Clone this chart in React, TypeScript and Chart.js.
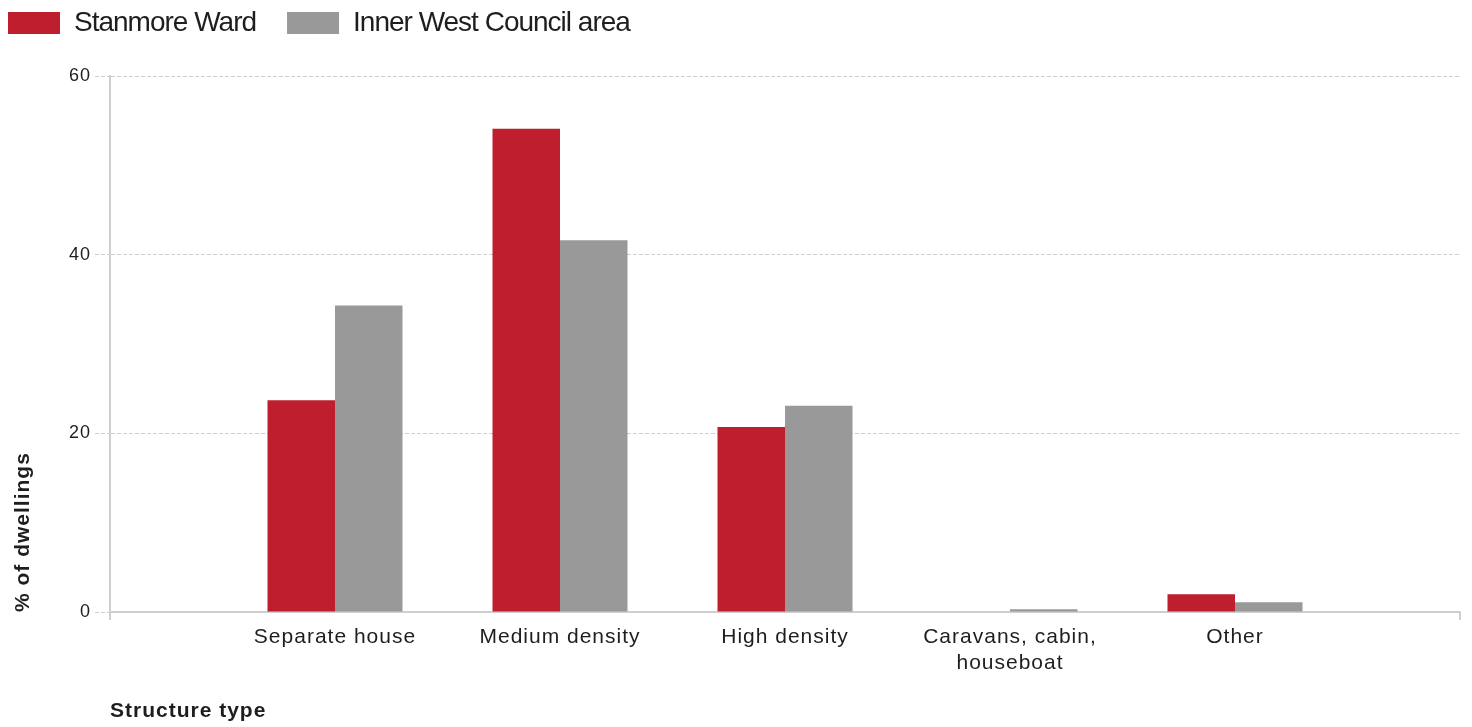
import React, { useEffect, useRef } from 'react';
import { Chart, registerables } from 'chart.js';

Chart.register(...registerables);

// ---- data ----
const categories: (string | string[])[] = [
  'Separate house',
  'Medium density',
  'High density',
  ['Caravans, cabin,', 'houseboat'],
  'Other',
];
const seriesNames = ['Stanmore Ward', 'Inner West Council area'];
const stanmoreWard = [23.7, 54.1, 20.7, 0.0, 2.0];
const innerWest = [34.3, 41.6, 23.1, 0.3, 1.1];
const yTicks = [0, 20, 40, 60];
const yTitle = '% of dwellings';
const xTitle = 'Structure type';

const FONT = "'Liberation Sans', Arial, Helvetica, sans-serif";
const RED = '#be1e2d';
const GREY = '#999999';
const GRID = '#cfcfcf';
const TEXT = '#1e1e1e';

const BASE_SPACING = '1px';
const LEGEND_SPACING = '-1px';

function withSpacing(fn: any, spacing: string) {
  return function (this: any, ...args: any[]) {
    const c = this.ctx;
    const prev = c.letterSpacing;
    c.letterSpacing = spacing;
    try {
      return fn.apply(this, args);
    } finally {
      c.letterSpacing = prev;
    }
  };
}

const spacingPlugin = {
  id: 'letterSpacing',
  beforeUpdate(chart: any) {
    chart.ctx.letterSpacing = BASE_SPACING;
    const lg = chart.legend;
    if (lg && !lg.__spacingPatched) {
      lg.__spacingPatched = true;
      lg.fit = withSpacing(lg.fit, LEGEND_SPACING);
      lg.draw = withSpacing(lg.draw, LEGEND_SPACING);
    }
  },
  beforeDraw(chart: any) {
    chart.ctx.letterSpacing = BASE_SPACING;
  },
};

export default function App() {
  const ref = useRef<HTMLCanvasElement | null>(null);

  useEffect(() => {
    if (!ref.current) return;
    const labels = ['', ...categories, ''];
    const lastIndex = labels.length - 1;
    const chart = new Chart(ref.current, {
      type: 'bar',
      data: {
        labels,
        datasets: [
          {
            label: seriesNames[0],
            data: [null, ...stanmoreWard, null],
            backgroundColor: RED,
            borderWidth: 0,
            categoryPercentage: 0.6,
            barPercentage: 1.0,
          },
          {
            label: seriesNames[1],
            data: [null, ...innerWest, null],
            backgroundColor: GREY,
            borderWidth: 0,
            categoryPercentage: 0.6,
            barPercentage: 1.0,
          },
        ],
      },
      plugins: [spacingPlugin],
      options: {
        animation: false,
        responsive: false,
        maintainAspectRatio: false,
        devicePixelRatio: 1,
        layout: { padding: { left: -23, top: -22, right: 12, bottom: 0 } },
        plugins: {
          tooltip: { enabled: false },
          legend: {
            display: true,
            position: 'top',
            align: 'start',
            labels: {
              boxWidth: 52,
              boxHeight: 22,
              padding: 31,
              color: TEXT,
              font: { family: FONT, size: 28 },
            },
          },
          title: {
            display: true,
            text: '',
            weight: 500,
            position: 'top',
            padding: { top: 17, bottom: 0 },
            font: { family: FONT, size: 10, lineHeight: 1.2 },
          },
        },
        scales: {
          x: {
            type: 'category',
            offset: false,
            grid: {
              display: true,
              offset: false,
              drawOnChartArea: false,
              drawTicks: true,
              tickLength: 8,
              lineWidth: 2,
              color: GRID,
              tickColor: (ctx: any) =>
                ctx.index === 0 || ctx.index === lastIndex ? GRID : 'rgba(0,0,0,0)',
            },
            border: { display: true, color: GRID, width: 2 },
            ticks: {
              autoSkip: false,
              maxRotation: 0,
              minRotation: 0,
              padding: 4,
              color: TEXT,
              font: { family: FONT, size: 21, lineHeight: 1.25 },
            },
            title: {
              display: true,
              text: xTitle,
              align: 'start',
              color: TEXT,
              padding: { top: 0, bottom: 3 },
              font: { family: FONT, size: 21, weight: 'bold', lineHeight: 1.2 },
            },
            afterFit: (scale: any) => {
              scale.height = 115;
            },
          },
          y: {
            min: 0,
            max: 60,
            afterBuildTicks: (scale: any) => {
              scale.ticks = yTicks.map((v) => ({ value: v }));
            },
            grid: {
              color: GRID,
              lineWidth: 1,
              tickLength: 15,
              tickBorderDash: [4, 2],
            },
            border: { display: true, color: GRID, width: 2, dash: [4, 2] },
            ticks: {
              padding: 4,
              color: TEXT,
              font: { family: FONT, size: 18 },
            },
            title: {
              display: true,
              text: yTitle,
              align: 'start',
              color: TEXT,
              padding: { top: 34, bottom: 0 },
              font: { family: FONT, size: 21, weight: 'bold', lineHeight: 1.2 },
            },
            afterFit: (scale: any) => {
              scale.width = 133;
            },
          },
        },
      },
    } as any);
    return () => chart.destroy();
  }, []);

  return (
    <div style={{ position: 'absolute', left: 0, top: 0, width: 1472, height: 727, background: '#fff' }}>
      <canvas ref={ref} width={1472} height={727} style={{ display: 'block', width: 1472, height: 727 }} />
    </div>
  );
}
